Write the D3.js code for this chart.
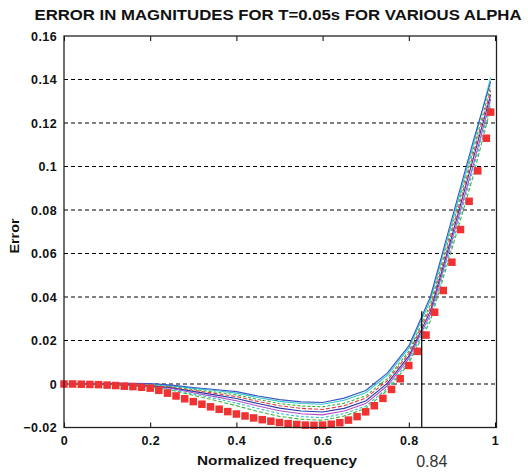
<!DOCTYPE html>
<html><head><meta charset="utf-8">
<script src="https://cdn.jsdelivr.net/npm/d3@7"></script>
<style>
body{margin:0;background:#fff;}
svg{display:block;}
.tick text{font-family:"Liberation Sans",Arial,sans-serif;font-weight:bold;font-size:12.5px;letter-spacing:0.4px;fill:#111;}
</style></head>
<body><svg id="c" width="528" height="472"></svg>
<script>
// ---- data ----
const titleText = "ERROR IN MAGNITUDES FOR T=0.05s FOR VARIOUS ALPHA";
const xLabel = "Normalized frequency";
const yLabel = "Error";
const xTicks = [0, 0.2, 0.4, 0.6, 0.8, 1];
const yTicks = [-0.02, 0, 0.02, 0.04, 0.06, 0.08, 0.1, 0.12, 0.14, 0.16];
const markX = 0.83, markY = 0.0335, markLabel = "0.84";

const lineFreq = [0, .05, .1, .15, .2, .25, .3, .35, .4, .45, .5, .55, .6, .65, .7, .75, .8, .85, .9, .95, .99];
const line1 = [0, .0002, .0003, .0003, .0002, -.0005, -.0016, -.0025, -.0035, -.0055, -.0072, -.0082, -.0085, -.0065, -.0030, .0050, .0175, .0400, .0760, .1120, .1390];
const line2 = [0, .0002, .0002, .0001, -.0001, -.0008, -.0020, -.0030, -.0042, -.0062, -.0080, -.0090, -.0093, -.0075, -.0040, .0040, .0165, .0385, .0740, .1100, .1410];
const line3 = [0, .0001, .0001, 0, -.0003, -.0011, -.0025, -.0037, -.0050, -.0071, -.0090, -.0101, -.0105, -.0088, -.0055, .0025, .0150, .0365, .0720, .1080, .1370];
const line4 = [0, .0001, 0, -.0002, -.0005, -.0014, -.0029, -.0043, -.0058, -.0080, -.0100, -.0112, -.0117, -.0100, -.0065, .0015, .0140, .0350, .0700, .1060, .1350];
const line5 = [0, 0, -.0001, -.0003, -.0007, -.0017, -.0034, -.0050, -.0067, -.0090, -.0111, -.0124, -.0129, -.0112, -.0078, .0003, .0128, .0335, .0680, .1040, .1330];
const line6 = [0, 0, -.0002, -.0005, -.0009, -.0021, -.0040, -.0058, -.0077, -.0101, -.0123, -.0137, -.0142, -.0124, -.0090, -.0008, .0117, .0320, .0660, .1010, .1310];
const line7 = [0, -.0001, -.0003, -.0006, -.0011, -.0025, -.0046, -.0066, -.0088, -.0113, -.0136, -.0150, -.0155, -.0136, -.0102, -.0020, .0105, .0305, .0640, .0990, .1290];
const line8 = [0, -.0001, -.0004, -.0008, -.0013, -.0029, -.0052, -.0075, -.0100, -.0126, -.0149, -.0162, -.0167, -.0147, -.0112, -.0030, .0095, .0290, .0620, .0960, .1270];

const redFreq = [0, .02, .04, .06, .08, .10, .12, .14, .16, .18, .20, .22, .24, .26, .28, .30, .32, .34, .36, .38, .40, .42, .44, .46, .48, .50, .52, .54, .56, .58, .60, .62, .64, .66, .68, .70, .72, .74, .76, .78, .80, .82, .84, .86, .88, .90, .92, .94, .96, .98, .99];
const redErr = [0, 0, -.0001, -.0002, -.0003, -.0005, -.0007, -.0010, -.0012, -.0015, -.0019, -.0029, -.0042, -.0055, -.0068, -.0081, -.0093, -.0105, -.0116, -.0127, -.0138, -.0147, -.0156, -.0164, -.0171, -.0177, -.0182, -.0186, -.0189, -.0190, -.0189, -.0185, -.0178, -.0166, -.0150, -.0128, -.0100, -.0066, -.0025, .0024, .0085, .0150, .0225, .0330, .0430, .0560, .0710, .0840, .0980, .1130, .1250];

const lineSeries = [
  {vals: line8, color: "#3cb83c", dash: "4,2"},
  {vals: line7, color: "#30c0c8", dash: "3,2"},
  {vals: line6, color: "#b050c8", dash: null},
  {vals: line5, color: "#2a3aa8", dash: null},
  {vals: line4, color: "#e83a3a", dash: "4,2"},
  {vals: line3, color: "#40b040", dash: "3,2"},
  {vals: line2, color: "#30c8c8", dash: null},
  {vals: line1, color: "#3a55c8", dash: null}
];

// ---- layout ----
const svg = d3.select("#c");
const L = 64, R = 495, T = 36, B = 427.5;
const x = d3.scaleLinear().domain([0, 1]).range([L, R]);
const y = d3.scaleLinear().domain([-0.02, 0.16]).range([B, T]);
const font = '"Liberation Sans",Arial,sans-serif';

// gridlines
svg.append("g").selectAll("line").data(yTicks.filter(v => v > -0.02 && v < 0.16)).join("line")
  .attr("x1", L).attr("x2", R + 1).attr("y1", d => y(d)).attr("y2", d => y(d))
  .attr("stroke", "#000").attr("stroke-width", 1).attr("stroke-dasharray", "4,3");

// axes
const fmt = d => d === 0 ? "0" : d3.format("")(+d.toFixed(2));
const gx = svg.append("g").attr("transform", `translate(0,${B})`)
  .call(d3.axisBottom(x).tickValues(xTicks).tickSize(-5).tickPadding(9).tickFormat(fmt));
const gxt = svg.append("g").attr("transform", `translate(0,${T})`)
  .call(d3.axisTop(x).tickValues(xTicks).tickSize(-5).tickFormat(""));
const gy = svg.append("g").attr("transform", `translate(${L},0)`)
  .call(d3.axisLeft(y).tickValues(yTicks).tickSize(0).tickPadding(7).tickFormat(fmt));
[gx, gxt, gy].forEach(g => { g.select(".domain").remove(); g.selectAll(".tick line").attr("stroke", "#000"); });

// lines
const lineGen = d3.line().x((d, i) => x(lineFreq[i])).y(d => y(d));
svg.append("g").selectAll("path").data(lineSeries).join("path")
  .attr("d", s => lineGen(s.vals)).attr("fill", "none")
  .attr("stroke", s => s.color).attr("stroke-width", 1.1)
  .attr("stroke-dasharray", s => s.dash);

// red square markers
const sq = 7.5;
svg.append("g").selectAll("rect").data(redErr).join("rect")
  .attr("x", (d, i) => x(redFreq[i]) - sq / 2).attr("y", d => y(d) - sq / 2)
  .attr("width", sq).attr("height", sq).attr("fill", "#f03232");

// marker line
svg.append("line").attr("x1", x(markX)).attr("x2", x(markX)).attr("y1", B).attr("y2", y(markY))
  .attr("stroke", "#000").attr("stroke-width", 1.2);

// frame
svg.append("rect").attr("x", L).attr("y", T).attr("width", R + 1.5 - L).attr("height", B - T)
  .attr("fill", "none").attr("stroke", "#222").attr("stroke-width", 1.3);

// texts
svg.append("text").attr("x", 278).attr("y", 20).attr("text-anchor", "middle")
  .attr("font-family", font).attr("font-weight", "bold").attr("font-size", 15)
  .attr("textLength", 487).attr("lengthAdjust", "spacingAndGlyphs").attr("fill", "#111").text(titleText);
svg.append("text").attr("x", 277).attr("y", 465).attr("text-anchor", "middle")
  .attr("font-family", font).attr("font-weight", "bold").attr("font-size", 13)
  .attr("textLength", 160).attr("lengthAdjust", "spacingAndGlyphs").attr("fill", "#111").text(xLabel);
svg.append("text").attr("transform", "translate(19,236) rotate(-90)").attr("text-anchor", "middle")
  .attr("font-family", font).attr("font-weight", "bold").attr("font-size", 13)
  .attr("textLength", 35).attr("lengthAdjust", "spacingAndGlyphs").attr("fill", "#111").text(yLabel);
svg.append("text").attr("x", x(markX) + 10).attr("y", 467).attr("text-anchor", "middle")
  .attr("font-family", font).attr("font-size", 16).attr("fill", "#333").text(markLabel);
</script></body></html>
